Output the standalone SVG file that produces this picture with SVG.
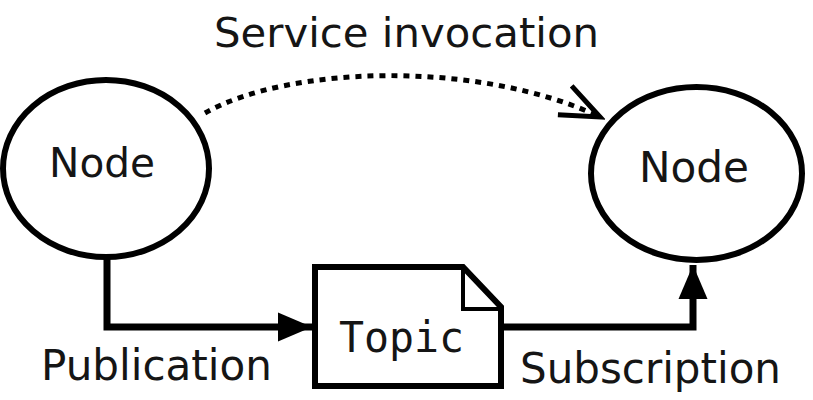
<svg xmlns="http://www.w3.org/2000/svg" width="813" height="400" viewBox="0 0 813 400">
  <style>
    .shape { fill: #fff; stroke: #000; stroke-width: 6; }
    .lbl { font-family: "DejaVu Sans", "Liberation Sans", sans-serif; fill: #151515; }
    .mono { font-family: "DejaVu Sans Mono", "Liberation Mono", monospace; fill: #151515; }
    .conn { fill: none; stroke: #000; stroke-width: 7; }
    .dotted { fill: none; stroke: #000; stroke-width: 5; stroke-dasharray: 6 6; }
  </style>
  <defs>
    <marker id="solid" markerUnits="userSpaceOnUse" viewBox="-36 -16 37 32" refX="0" refY="0" markerWidth="37" markerHeight="32" orient="auto">
      <path d="M0 0 L-34 -14.5 L-34 14.5 Z" fill="#000"/>
    </marker>
    <marker id="open" markerUnits="userSpaceOnUse" viewBox="-44 -22 50 44" refX="0" refY="0" markerWidth="50" markerHeight="44" orient="auto">
      <path d="M-39 -16 L0 0 L-39 16" fill="none" stroke="#000" stroke-width="5"/>
    </marker>
  </defs>
  <rect width="813" height="400" fill="#fff"/>
  <g id="connectors">
    <path class="dotted" d="M205 113 C290 65 480 60 600 117" marker-end="url(#open)"/>
    <path class="conn" d="M107 257 V327 H312" marker-end="url(#solid)"/>
    <path class="conn" d="M504 327 H693 V265" marker-end="url(#solid)"/>
    <text class="lbl" x="214" y="47" font-size="41" textLength="385" lengthAdjust="spacingAndGlyphs">Service invocation</text>
    <text class="lbl" x="41" y="380" font-size="43" textLength="231" lengthAdjust="spacingAndGlyphs">Publication</text>
    <text class="lbl" x="520" y="383" font-size="42" textLength="261" lengthAdjust="spacingAndGlyphs">Subscription</text>
  </g>
  <g id="node-left">
    <ellipse class="shape" cx="106" cy="168.5" rx="103" ry="88.5"/>
    <text class="lbl" x="49" y="177" font-size="41" textLength="106" lengthAdjust="spacingAndGlyphs">Node</text>
  </g>
  <g id="node-right">
    <ellipse class="shape" cx="696.5" cy="173.5" rx="105.5" ry="86.5"/>
    <text class="lbl" x="639" y="182" font-size="42" textLength="110" lengthAdjust="spacingAndGlyphs">Node</text>
  </g>
  <g id="topic">
    <path class="shape" d="M315 267 H463 L501 307 V386 H315 Z" stroke-width="7"/>
    <path d="M463 267 V309 H501" fill="none" stroke="#000" stroke-width="4"/>
    <text class="mono" x="339" y="352" font-size="43" textLength="125" lengthAdjust="spacingAndGlyphs">Topic</text>
  </g>
</svg>
